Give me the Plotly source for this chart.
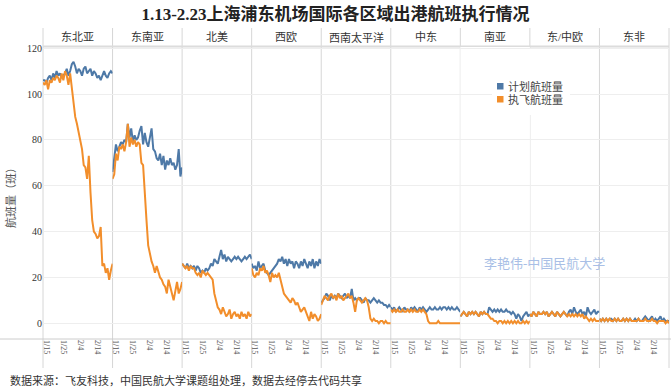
import plotly.graph_objects as go
from plotly.subplots import make_subplots
import pandas as pd

regions = ["东北亚", "东南亚", "北美", "西欧", "西南太平洋", "中东", "南亚", "东/中欧", "东非"]
dates = pd.date_range("2020-01-13", "2020-02-23").strftime("%Y-%m-%d").tolist()
tick_vals = ["2020-01-15", "2020-01-25", "2020-02-04", "2020-02-14"]
tick_text = ["1/15", "1/25", "2/4", "2/14"]

# 计划航班量 (planned)
plan_ne_asia = [106, 106, 105, 107, 108, 106, 109, 107, 110, 108, 109, 107, 108, 109, 111, 108, 110, 113, 114, 112, 109,
                111, 110, 108, 111, 112, 109, 110, 111, 108, 110, 109, 107, 108, 106, 108, 110, 108, 107, 109, 110, 109]
plan_se_asia = [66, 71, 78, 75, 77, 79, 78, 80, 79, 87, 81, 85, 79, 82, 80, 81, 84, 86, 78, 83, 79,
                77, 81, 85, 76, 75, 72, 71, 74, 69, 73, 67, 71, 69, 72, 69, 70, 67, 69, 76, 64, 68]
plan_n_america = [26, 25, 24, 26, 24, 25, 24, 25, 23, 25, 24, 22, 23, 22, 24, 23, 24, 26, 25, 28, 27,
                  26, 29, 32, 28, 30, 27, 29, 28, 27, 28, 29, 28, 29, 28, 27, 28, 29, 28, 29, 30, 28]
plan_w_europe = [26, 24, 25, 23, 27, 24, 25, 26, 23, 22, 21, 22, 23, 24, 25, 26, 28, 27, 29, 26, 28,
                 25, 28, 26, 27, 24, 27, 26, 24, 27, 25, 28, 26, 24, 27, 25, 28, 24, 27, 25, 28, 26]
plan_sw_pacific = [9, 10, 11, 13, 12, 10, 12, 11, 12, 11, 13, 12, 11, 12, 13, 11, 12, 11, 15, 10, 11,
                   10, 11, 11, 10, 9, 11, 10, 10, 9, 10, 11, 10, 9, 10, 9, 9, 8, 8, 7, 8, 7]
plan_mid_east = [7, 6, 7, 5, 6, 7, 6, 5, 7, 6, 6, 5, 7, 6, 7, 6, 5, 7, 6, 7, 6,
                 5, 6, 7, 6, 6, 7, 6, 6, 7, 6, 7, 7, 6, 7, 6, 7, 6, 6, 7, 6, 5]
plan_s_asia = [3, 4, 5, 4, 3, 5, 4, 5, 4, 5, 4, 3, 5, 4, 5, 4, 4, 7, 6, 5, 6,
               5, 6, 5, 6, 5, 5, 6, 5, 5, 4, 5, 4, 2, 4, 3, 1, 3, 4, 5, 3, 4]
plan_e_europe = [4, 3, 5, 4, 3, 5, 4, 4, 5, 4, 5, 3, 4, 5, 4, 3, 5, 4, 3, 4, 5,
                 4, 3, 5, 6, 4, 7, 5, 4, 5, 6, 4, 5, 3, 7, 5, 4, 5, 6, 4, 5, 5]
plan_e_africa = [2, 1, 2, 1, 2, 1, 2, 2, 1, 2, 1, 2, 1, 1, 2, 1, 2, 1, 2, 1, 1,
                 2, 1, 2, 1, 1, 2, 3, 2, 1, 2, 3, 1, 2, 1, 2, 3, 1, 2, 1, 1, 1]

# 执飞航班量 (operated)
act_ne_asia = [105, 104, 106, 102, 106, 105, 107, 106, 108, 107, 105, 109, 106, 110, 108, 104, 109, 102, 96, 90, 87,
               83, 79, 76, 69, 68, 63, 73, 57, 45, 40, 39, 37, 38, 42, 25, 26, 22, 24, 19, 23, 26]
act_se_asia = [63, 65, 74, 71, 77, 76, 78, 75, 79, 87, 77, 81, 78, 80, 77, 79, 78, 70, 69, 55, 45,
               34, 30, 27, 25, 22, 25, 22, 20, 19, 17, 16, 13, 19, 16, 13, 10, 14, 18, 13, 15, 18]
act_n_america = [26, 25, 24, 25, 23, 25, 24, 24, 22, 21, 22, 20, 23, 22, 21, 22, 21, 20, 19, 13, 10,
                 7, 6, 4, 7, 5, 3, 4, 6, 2, 4, 5, 3, 4, 2, 5, 3, 4, 2, 5, 3, 4]
act_w_europe = [24, 21, 20, 22, 21, 24, 23, 25, 22, 23, 21, 18, 22, 20, 21, 20, 22, 19, 15, 13, 12,
                11, 10, 9, 11, 10, 8, 9, 7, 5, 6, 7, 5, 3, 1, 5, 2, 4, 3, 1, 2, 4]
act_sw_pacific = [8, 10, 12, 11, 10, 12, 13, 11, 12, 10, 13, 11, 12, 10, 11, 12, 13, 11, 12, 9, 5,
                  10, 11, 10, 9, 10, 11, 10, 7, 2, 1, 2, 1, 1, 0, 1, 1, 0, 1, 0, 0, 0]
act_mid_east = [6, 5, 6, 5, 6, 5, 5, 6, 5, 5, 6, 5, 6, 5, 6, 5, 5, 6, 5, 6, 5,
                4, 1, 0, 0, 0, 0, 0, 1, 0, 0, 0, 0, 0, 0, 0, 0, 0, 0, 0, 0, 0]
act_s_asia = [3, 4, 5, 4, 3, 5, 4, 5, 4, 5, 4, 3, 5, 4, 5, 4, 4, 3, 2, 2, 1,
              1, 0, 1, 1, 0, 1, 0, 1, 0, 1, 0, 1, 0, 1, 0, 0, 1, 0, 1, 0, 1]
act_e_europe = [4, 3, 5, 4, 3, 5, 4, 4, 5, 4, 5, 3, 4, 5, 4, 3, 5, 4, 3, 4, 5,
                4, 3, 4, 3, 4, 3, 4, 3, 4, 3, 4, 2, 3, 2, 1, 2, 1, 2, 1, 1, 1]
act_e_africa = [2, 1, 2, 1, 2, 1, 2, 1, 1, 2, 1, 2, 1, 1, 2, 1, 2, 1, 2, 1, 1,
                1, 1, 2, 1, 1, 1, 2, 1, 1, 1, 2, 1, 1, 0, 1, 1, 1, 1, 0, 1, 0]

plan_all = [plan_ne_asia, plan_se_asia, plan_n_america, plan_w_europe, plan_sw_pacific,
            plan_mid_east, plan_s_asia, plan_e_europe, plan_e_africa]
act_all = [act_ne_asia, act_se_asia, act_n_america, act_w_europe, act_sw_pacific,
           act_mid_east, act_s_asia, act_e_europe, act_e_africa]

BLUE = "#4e79a7"
ORANGE = "#f28e2b"
FONT = "Liberation Serif, Noto Sans CJK SC, serif"

W, H = 671, 391
ML, MR, MT, MB = 43, 2, 47, 52
PW, PH = W - ML - MR, H - MT - MB


def px2x(px):
    return (px - ML) / PW


def py2y(py):
    return (H - MB - py) / PH


n = len(regions)
fig = make_subplots(rows=1, cols=n, shared_yaxes=True, horizontal_spacing=0)

for i in range(n):
    fig.add_trace(go.Scatter(x=dates, y=plan_all[i], mode="lines", line=dict(color=BLUE, width=2),
                             name="计划航班量", showlegend=False), row=1, col=i + 1)
    fig.add_trace(go.Scatter(x=dates, y=act_all[i], mode="lines", line=dict(color=ORANGE, width=2),
                             name="执飞航班量", showlegend=False), row=1, col=i + 1)

fig.update_xaxes(range=[dates[0], dates[-1]], tickmode="array", tickvals=tick_vals, ticktext=tick_text,
                 tickangle=90, tickfont=dict(size=8, color="#555", family=FONT),
                 showgrid=False, zeroline=False, showline=False, ticks="", automargin=False)
fig.update_yaxes(range=[-6.85, 120.5], tickvals=[0, 20, 40, 60, 80, 100, 120],
                 showgrid=True, gridcolor="#eeeeee", gridwidth=1, zeroline=False, showline=False,
                 ticks="", tickfont=dict(size=10, color="#333", family=FONT), automargin=False)

shapes = []
# panel separators
for i in range(n + 1):
    shapes.append(dict(type="line", xref="paper", yref="paper", x0=i / n, x1=i / n,
                       y0=py2y(368), y1=py2y(28), line=dict(color="#d6d6d6", width=1), layer="below"))
# header bottom line
shapes.append(dict(type="line", xref="paper", yref="paper", x0=0, x1=1, y0=py2y(46.5), y1=py2y(46.5),
                   line=dict(color="#dcdcdc", width=2), layer="below"))
# x axis base line
shapes.append(dict(type="line", xref="paper", yref="paper", x0=px2x(0), x1=px2x(671), y0=0, y1=0,
                   line=dict(color="#cccccc", width=1), layer="below"))
# legend background
shapes.append(dict(type="rect", xref="paper", yref="paper", x0=px2x(492), x1=px2x(570),
                   y0=py2y(115), y1=py2y(49), fillcolor="white", line=dict(width=0), layer="above"))
# legend swatches
shapes.append(dict(type="rect", xref="paper", yref="paper", x0=px2x(497), x1=px2x(503.5),
                   y0=py2y(89.5), y1=py2y(83), fillcolor=BLUE, line=dict(width=0), layer="above"))
shapes.append(dict(type="rect", xref="paper", yref="paper", x0=px2x(497), x1=px2x(503.5),
                   y0=py2y(102.5), y1=py2y(96), fillcolor=ORANGE, line=dict(width=0), layer="above"))

annotations = []
for i, r in enumerate(regions):
    annotations.append(dict(text=r, xref="paper", yref="paper", x=(i + 0.5) / n, y=py2y(37),
                            xanchor="center", yanchor="middle", showarrow=False,
                            font=dict(size=11, color="#333", family=FONT)))
annotations.append(dict(text="计划航班量", xref="paper", yref="paper", x=px2x(506), y=py2y(86.5),
                        xanchor="left", yanchor="middle", showarrow=False,
                        font=dict(size=11, color="#444", family=FONT)))
annotations.append(dict(text="执飞航班量", xref="paper", yref="paper", x=px2x(506), y=py2y(99.5),
                        xanchor="left", yanchor="middle", showarrow=False,
                        font=dict(size=11, color="#444", family=FONT)))
annotations.append(dict(text="航班量（班）", xref="paper", yref="paper", x=px2x(10), y=py2y(195),
                        xanchor="center", yanchor="middle", textangle=-90, showarrow=False,
                        font=dict(size=11, color="#555", family=FONT)))
annotations.append(dict(text="李艳伟-中国民航大学", xref="paper", yref="paper", x=px2x(544), y=py2y(263),
                        xanchor="center", yanchor="middle", showarrow=False,
                        font=dict(size=13, color="#a9bfe6", family=FONT)))
annotations.append(dict(text="数据来源：飞友科技，中国民航大学课题组处理，数据去经停去代码共享",
                        xref="paper", yref="paper", x=px2x(8), y=py2y(380),
                        xanchor="left", yanchor="middle", showarrow=False,
                        font=dict(size=11, color="#333", family=FONT)))

fig.update_layout(
    width=W, height=H, autosize=False,
    margin=dict(l=ML, r=MR, t=MT, b=MB, autoexpand=False),
    paper_bgcolor="white", plot_bgcolor="white",
    title=dict(text="<b>1.13-2.23上海浦东机场国际各区域出港航班执行情况</b>", x=0.5, xanchor="center",
               y=1 - 14 / H, yanchor="middle", font=dict(size=17, color="#222", family=FONT)),
    showlegend=False,
    shapes=shapes,
    annotations=annotations,
)

fig.write_html("out.html", config={"displayModeBar": False},
               post_script="document.body.style.margin='0';document.body.style.padding='0';"
                           "document.documentElement.style.overflow='hidden';")
